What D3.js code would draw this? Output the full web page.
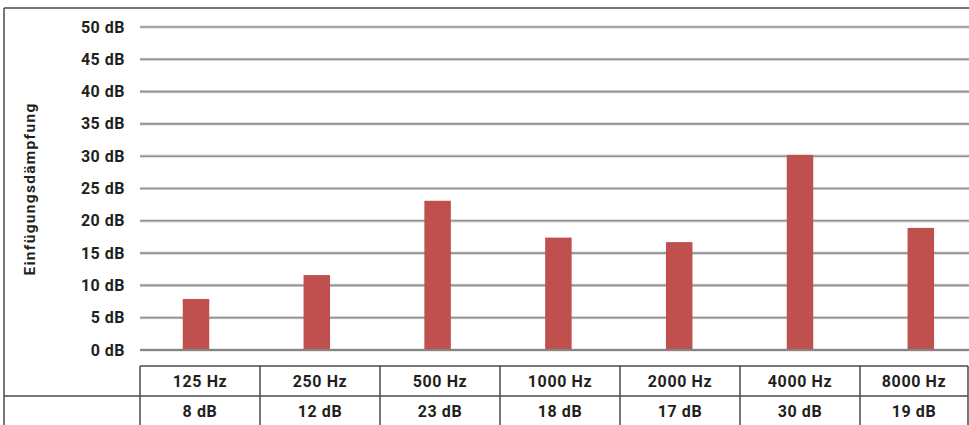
<!DOCTYPE html>
<html>
<head>
<meta charset="utf-8">
<script src="https://cdn.jsdelivr.net/npm/d3@7/dist/d3.min.js"></script>
<style>
  html, body { margin: 0; padding: 0; background: #fff; }
  svg { display: block; }
  text { font-family: Roboto, "Open Sans", sans-serif; font-weight: bold; fill: #231f20; }
</style>
</head>
<body>
<script>
const categories = ["125 Hz", "250 Hz", "500 Hz", "1000 Hz", "2000 Hz", "4000 Hz", "8000 Hz"];
const values = [7.9, 11.6, 23.1, 17.4, 16.7, 30.2, 18.9];
const tableLabels = ["8 dB", "12 dB", "23 dB", "18 dB", "17 dB", "30 dB", "19 dB"];
const yTicks = [0, 5, 10, 15, 20, 25, 30, 35, 40, 45, 50];
const yTitle = "Einfügungsdämpfung";

const W = 969, H = 425;
const svg = d3.select("body").append("svg").attr("width", W).attr("height", H);

const y = d3.scaleLinear().domain([0, 50]).range([350, 27]);
const xBar = d3.scaleBand().domain(categories).range([135.6, 981.2]);
const xTab = d3.scaleBand().domain(categories).range([140, 980]);
const plotLeft = 140, plotRight = 969, tableRight = 968;
const barW = 26.5;

// gridlines
const grid = svg.append("g");
grid.selectAll("line.glow").data(yTicks).join("line")
  .attr("x1", plotLeft).attr("x2", plotRight)
  .attr("y1", d => y(d)).attr("y2", d => y(d))
  .attr("stroke", "#d6d6d6").attr("stroke-width", 3.2);
grid.selectAll("line.main").data(yTicks).join("line")
  .attr("x1", plotLeft).attr("x2", plotRight)
  .attr("y1", d => y(d)).attr("y2", d => y(d))
  .attr("stroke", d => d === 0 ? "#6a6a6a" : "#939393").attr("stroke-width", 1.6);

// y labels
svg.append("g").selectAll("text").data(yTicks).join("text")
  .attr("x", 125).attr("y", d => y(d))
  .attr("text-anchor", "end").attr("dominant-baseline", "central")
  .style("font-size", "16px").style("letter-spacing", "0.5px")
  .text(d => d + " dB");

// bars
svg.append("g").selectAll("rect").data(values).join("rect")
  .attr("x", (d, i) => xBar(categories[i]) + (xBar.bandwidth() - barW) / 2)
  .attr("width", barW)
  .attr("y", d => y(d))
  .attr("height", d => y(0) - y(d) - 1)
  .attr("fill", "#c0504d");

// y title
svg.append("text")
  .attr("transform", "translate(35,189) rotate(-90)")
  .attr("text-anchor", "middle")
  .style("font-size", "15.5px").style("letter-spacing", "1.3px")
  .text(yTitle);

// outer frame
const lc = "#4a4a4a";
svg.append("line").attr("x1", 4).attr("x2", W).attr("y1", 8).attr("y2", 8).attr("stroke", lc).attr("stroke-width", 1.5);
svg.append("line").attr("x1", 4).attr("x2", 4).attr("y1", 8).attr("y2", H).attr("stroke", lc).attr("stroke-width", 1.5);

// table
const tab = svg.append("g");
tab.append("line").attr("x1", plotLeft).attr("x2", tableRight).attr("y1", 366).attr("y2", 366).attr("stroke", lc).attr("stroke-width", 1.5);
tab.append("line").attr("x1", 4).attr("x2", tableRight).attr("y1", 396).attr("y2", 396).attr("stroke", lc).attr("stroke-width", 1.5);
const cols = categories.map(c => xTab(c)).concat([tableRight]);
tab.selectAll("line.col").data(cols).join("line")
  .attr("x1", d => d).attr("x2", d => d).attr("y1", 366).attr("y2", H)
  .attr("stroke", lc).attr("stroke-width", 1.5);
const colCenter = c => (xTab(c) + Math.min(xTab(c) + xTab.bandwidth(), tableRight)) / 2;
tab.selectAll("text.cat").data(categories).join("text")
  .attr("x", d => colCenter(d)).attr("y", 381.5)
  .attr("text-anchor", "middle").attr("dominant-baseline", "central")
  .style("font-size", "16px").style("letter-spacing", "0.6px")
  .text(d => d);
tab.selectAll("text.val").data(tableLabels).join("text")
  .attr("x", (d, i) => colCenter(categories[i])).attr("y", 411.5)
  .attr("text-anchor", "middle").attr("dominant-baseline", "central")
  .style("font-size", "16px").style("letter-spacing", "0.6px")
  .text(d => d);
</script>
</body>
</html>
